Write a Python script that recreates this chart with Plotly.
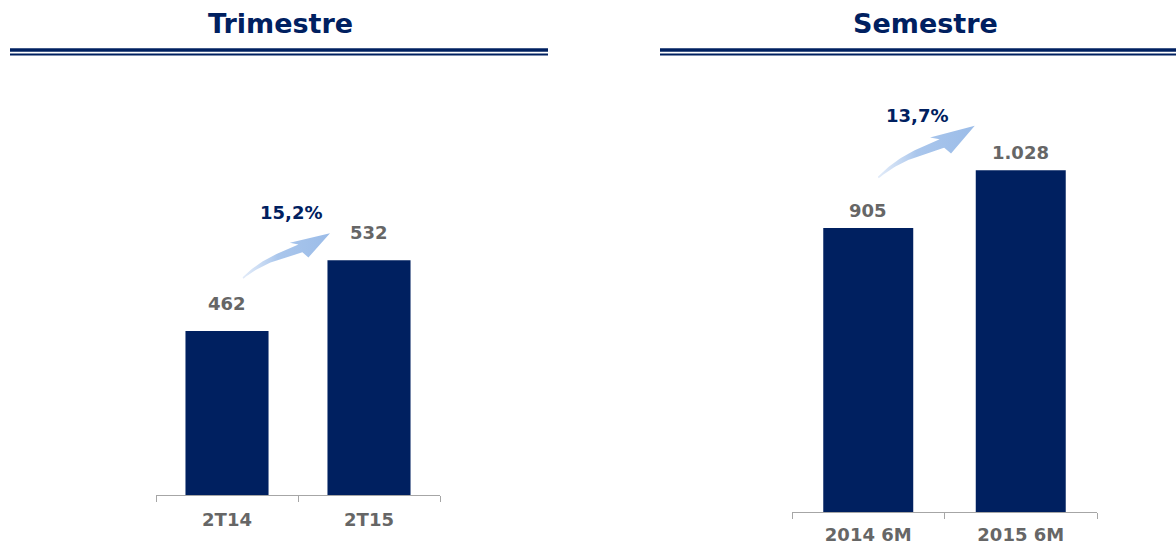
import numpy as np
import plotly.graph_objects as go

W, H = 1176, 544
NAVY = "#002060"
GRAY = "#666666"
AXIS = "#a6a6a6"
FONT = "DejaVu Sans"

# ---- data ----
titles = ["Trimestre", "Semestre"]
categories_tri = ["2T14", "2T15"]
values_tri = [462, 532]
growth_tri = "15,2%"
categories_sem = ["2014 6M", "2015 6M"]
values_sem = [905, 1028]
growth_sem = "13,7%"

# ---- layout / style per panel (pixels) ----
panels = [
    dict(cats=categories_tri, vals=values_tri, growth=growth_tri, title=titles[0],
         x0=156, x1=440, axis_y=495, ymin=300, ymax=789, barw=0.585, gap=28,
         title_x=280, line_x=(10, 548), standoff=8,
         tail_off=(16, -25), tip_off=(-39, 1), pct_off=(-39, -21)),
    dict(cats=categories_sem, vals=values_sem, growth=growth_sem, title=titles[1],
         x0=792, x1=1097, axis_y=512, ymin=300, ymax=1391, barw=0.59, gap=17.5,
         title_x=925, line_x=(660, 1176), standoff=6,
         tail_off=(10, -33), tip_off=(-46, -27), pct_off=(-58, -10)),
]


def fmt(v):
    return f"{v:,}".replace(",", ".")


def arrow_poly(T, P, n=40):
    T = np.array(T, float)
    P = np.array(P, float)
    u = P - T
    L = np.hypot(*u)
    e = u / L
    v = np.array([-e[1], e[0]])

    def pt(s, t):
        return T + s * L * e + t * L * v

    tau = np.linspace(0, 1, n)
    s_c = 0.66 * tau
    t_c = -0.18 * tau * (1 - tau) ** 1.3
    w = 0.008 + 0.036 * tau
    upper = [pt(s, t - ww) for s, t, ww in zip(s_c, t_c, w)]
    lower = [pt(s, t + ww) for s, t, ww in zip(s_c, t_c, w)]
    head = [pt(0.59, -0.1), pt(1.0, 0.0), pt(0.69, 0.12)]
    poly = upper + head + lower[::-1] + [upper[0]]
    xs = [p[0] for p in poly]
    ys = [p[1] for p in poly]
    return xs, ys


fig = go.Figure()
annotations = []
shapes = []
layout_axes = {}

for i, p in enumerate(panels):
    k = "" if i == 0 else str(i + 1)
    xa, ya = "x" + k, "y" + k
    n = len(p["cats"])
    fig.add_trace(go.Bar(
        x=p["cats"], y=p["vals"], marker_color=NAVY, marker_line_width=0,
        width=p["barw"], xaxis=xa, yaxis=ya, hoverinfo="skip", showlegend=False))

    layout_axes["xaxis" + k] = dict(
        type="category", domain=[p["x0"] / W, p["x1"] / W], anchor=ya,
        range=[-0.5, n - 0.5], showline=True, linecolor=AXIS, linewidth=1,
        ticks="outside", tickson="boundaries", ticklen=6, tickcolor=AXIS, tickwidth=1,
        showgrid=False, zeroline=False, ticklabelstandoff=p["standoff"],
        tickfont=dict(family=FONT, size=18, color=GRAY, weight="bold"),
        fixedrange=True)
    layout_axes["yaxis" + k] = dict(
        domain=[1 - p["axis_y"] / H, 1], range=[p["ymin"], p["ymax"]], anchor=xa,
        visible=False, showgrid=False, fixedrange=True)

    # value labels
    for c, val in zip(p["cats"], p["vals"]):
        annotations.append(dict(
            x=c, y=val, xref=xa, yref=ya, text=fmt(val), showarrow=False,
            yanchor="middle", xanchor="center", yshift=p["gap"],
            font=dict(family=FONT, size=18, color=GRAY, weight="bold")))

    # pixel helpers derived from axis settings
    cw = (p["x1"] - p["x0"]) / n
    scale = p["axis_y"] / (p["ymax"] - p["ymin"])

    def px_x(j, p=p, cw=cw):
        return p["x0"] + (j + 0.5) * cw

    def px_y(v, p=p, scale=scale):
        return p["axis_y"] - (v - p["ymin"]) * scale

    lab0 = (px_x(0), px_y(p["vals"][0]) - p["gap"])
    lab1 = (px_x(1), px_y(p["vals"][1]) - p["gap"])
    tail = (lab0[0] + p["tail_off"][0], lab0[1] + p["tail_off"][1])
    tip = (lab1[0] + p["tip_off"][0], lab1[1] + p["tip_off"][1])
    axs, ays = arrow_poly(tail, tip)
    fig.add_trace(go.Scatter(
        x=axs, y=ays, mode="lines", line=dict(width=0), fill="toself",
        fillgradient=dict(type="horizontal", colorscale=[
            [0, "rgba(196,215,242,0.5)"], [0.4, "rgba(165,195,235,0.95)"], [1, "#9bbce8"]]),
        xaxis="x3", yaxis="y3", hoverinfo="skip", showlegend=False))

    annotations.append(dict(
        x=(tip[0] + p["pct_off"][0]) / W, y=1 - (tip[1] + p["pct_off"][1]) / H,
        xref="paper", yref="paper", text=p["growth"], showarrow=False,
        xanchor="center", yanchor="middle",
        font=dict(family=FONT, size=18, color=NAVY, weight="bold")))

    # title and double rule
    annotations.append(dict(
        x=p["title_x"] / W, y=1 - 24 / H, xref="paper", yref="paper", text=p["title"],
        showarrow=False, xanchor="center", yanchor="middle",
        font=dict(family=FONT, size=27, color=NAVY, weight="bold")))
    lx0, lx1 = p["line_x"]
    shapes.append(dict(type="line", xref="paper", yref="paper",
                       x0=lx0 / W, x1=lx1 / W, y0=1 - 50 / H, y1=1 - 50 / H,
                       line=dict(color=NAVY, width=3.5)))
    shapes.append(dict(type="line", xref="paper", yref="paper",
                       x0=lx0 / W, x1=lx1 / W, y0=1 - 54.5 / H, y1=1 - 54.5 / H,
                       line=dict(color=NAVY, width=2)))

layout_axes["xaxis3"] = dict(domain=[0, 1], range=[0, W], anchor="y3", visible=False, fixedrange=True)
layout_axes["yaxis3"] = dict(domain=[0, 1], range=[H, 0], anchor="x3", visible=False, fixedrange=True)

fig.update_layout(
    width=W, height=H, margin=dict(l=0, r=0, t=0, b=0),
    paper_bgcolor="white", plot_bgcolor="rgba(0,0,0,0)",
    annotations=annotations, shapes=shapes, showlegend=False,
    **layout_axes)

fig.write_html("out.html", config={"displayModeBar": False})
